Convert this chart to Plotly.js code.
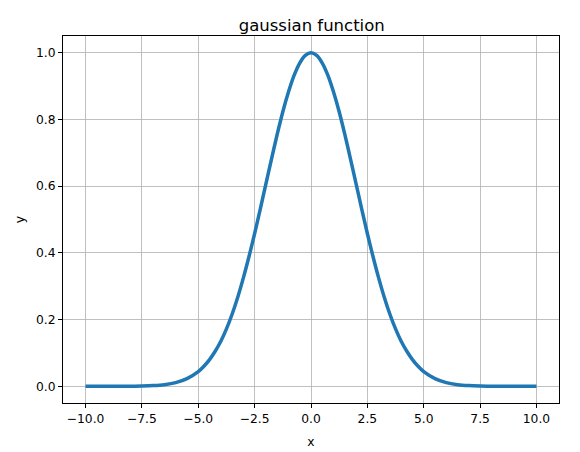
<!DOCTYPE html>
<html>
<head>
<meta charset="utf-8">
<script src="https://cdn.plot.ly/plotly-3.0.1.min.js"></script>
<style>html,body{margin:0;padding:0;background:#fff;}#chart{width:580px;height:452px;}</style>
</head>
<body>
<div id="chart"></div>
<script>
const xValues = [-10,-9.5,-9,-8.5,-8,-7.5,-7,-6.5,-6,-5.5,-5,-4.75,-4.5,-4.25,-4,-3.75,-3.5,-3.25,-3,-2.75,-2.5,-2.25,-2,-1.75,-1.5,-1.25,-1,-0.75,-0.5,-0.25,0,0.25,0.5,0.75,1,1.25,1.5,1.75,2,2.25,2.5,2.75,3,3.25,3.5,3.75,4,4.25,4.5,4.75,5,5.5,6,6.5,7,7.5,8,8.5,9,9.5,10];
const yValues = [0.0,0.0,0.0,0.0,0.0003,0.0009,0.0022,0.005,0.011,0.023,0.044,0.06,0.08,0.105,0.135,0.172,0.216,0.267,0.325,0.389,0.458,0.531,0.607,0.682,0.755,0.823,0.882,0.932,0.969,0.992,1.0,0.992,0.969,0.932,0.882,0.823,0.755,0.682,0.607,0.531,0.458,0.389,0.325,0.267,0.216,0.172,0.135,0.105,0.08,0.06,0.044,0.023,0.011,0.005,0.0022,0.0009,0.0003,0.0,0.0,0.0,0.0];
const xTicks = [-10,-7.5,-5,-2.5,0,2.5,5,7.5,10];
const xTickLabels = ["\u221210.0","\u22127.5","\u22125.0","\u22122.5","0.0","2.5","5.0","7.5","10.0"];
const yTicks = [0,0.2,0.4,0.6,0.8,1.0];
const yTickLabels = ["0.0","0.2","0.4","0.6","0.8","1.0"];

const font = {family: "DejaVu Sans", size: 12.3, color: "#000"};
const axisCommon = {
  showline: true, mirror: true, linecolor: "#000", linewidth: 1,
  ticks: "outside", ticklen: 4, tickwidth: 1, tickcolor: "#000",
  showgrid: true, gridcolor: "#b0b0b0", gridwidth: 0.8,
  zeroline: false, tickfont: font
};
Plotly.newPlot("chart", [{
  x: xValues, y: yValues, type: "scatter", mode: "lines",
  line: {color: "#1f77b4", width: 3.5, shape: "spline", smoothing: 0.8}
}], {
  width: 580, height: 452,
  margin: {l: 63, r: 21, t: 36, b: 49},
  paper_bgcolor: "#fff", plot_bgcolor: "#fff",
  showlegend: false,
  font: font,
  title: {text: "gaussian function", font: {family: "DejaVu Sans", size: 16.5, color: "#000"}, x: 0.5375, xanchor: "center", y: 0.945, yanchor: "middle"},
  xaxis: Object.assign({}, axisCommon, {range: [-11, 11], tickvals: xTicks, ticktext: xTickLabels,
    title: {text: "x", font: font, standoff: 12}}),
  yaxis: Object.assign({}, axisCommon, {range: [-0.05, 1.05], tickvals: yTicks, ticktext: yTickLabels,
    title: {text: "y", font: font, standoff: 8}})
}, {displayModeBar: false, staticPlot: true});
</script>
</body>
</html>
